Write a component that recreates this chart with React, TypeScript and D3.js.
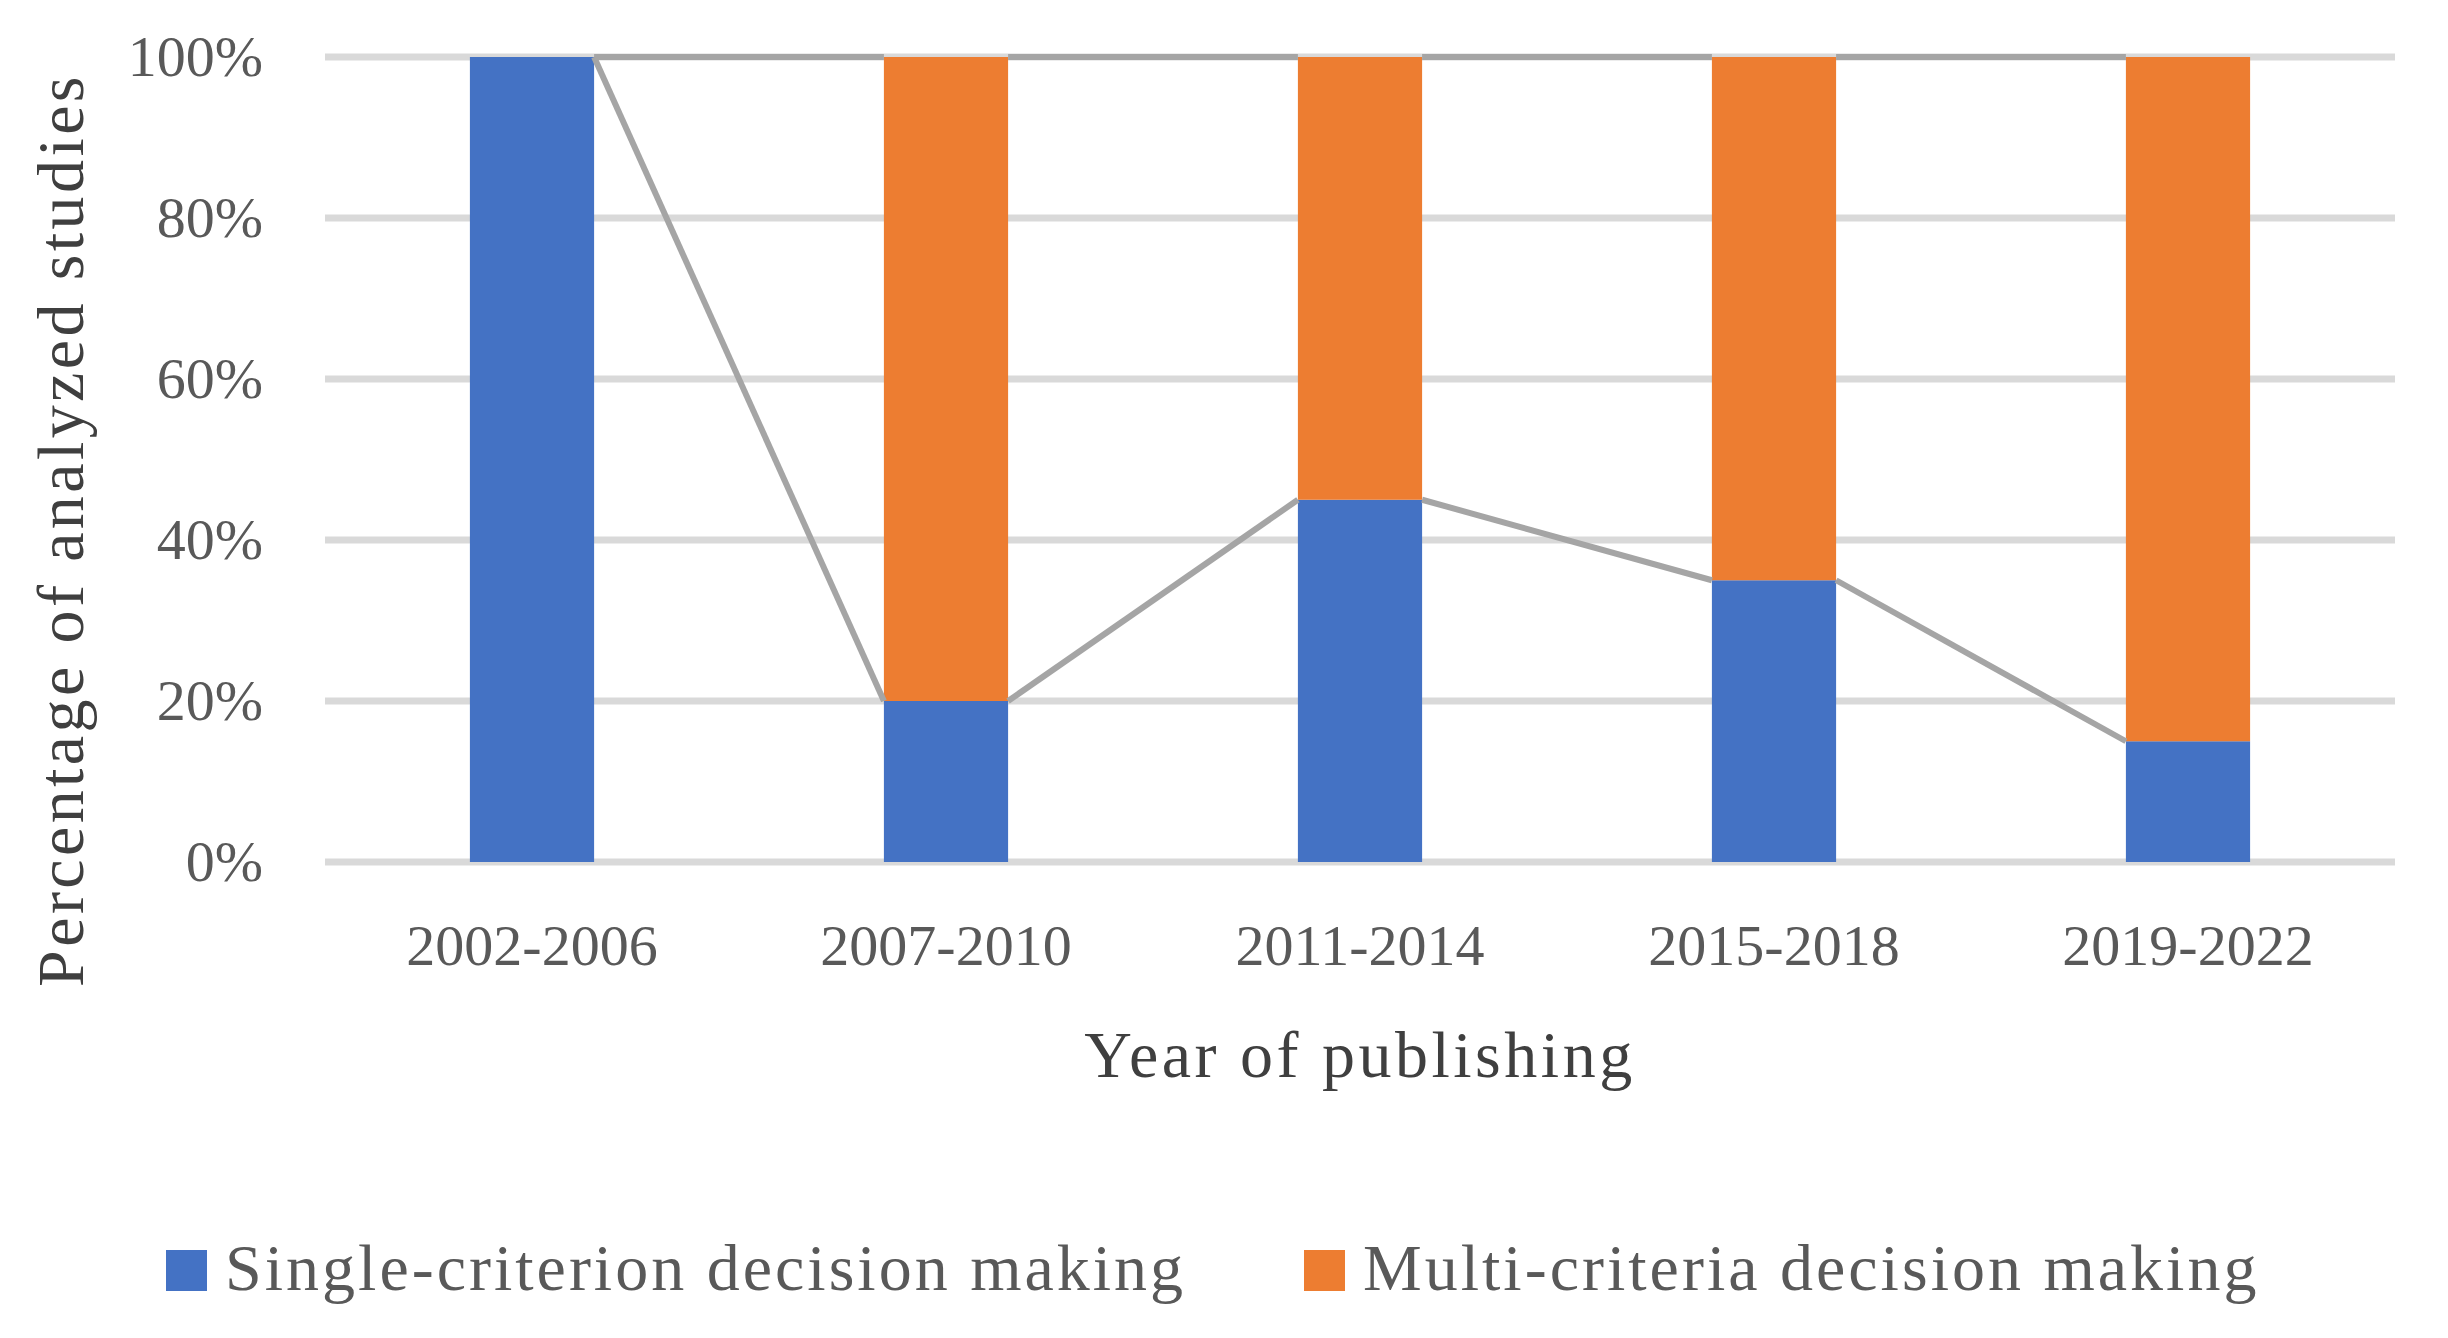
import * as d3 from "d3";

const periods = ["2002-2006", "2007-2010", "2011-2014", "2015-2018", "2019-2022"];
const singleCriterion = [100, 20, 45, 35, 15];
const multiCriteria = [0, 80, 55, 65, 85];
const seriesNames = ["Single-criterion decision making", "Multi-criteria decision making"];
const seriesColors = ["#4472C4", "#ED7D31"];
const yTicks = [0, 20, 40, 60, 80, 100];

const W = 2448;
const H = 1338;
const margin = { top: 57, right: 53, bottom: 476, left: 325 };
const FONT = "'Palatino Linotype', 'Book Antiqua', Palatino, 'Liberation Serif', serif";

const App = () => {
  const x = d3
    .scaleBand()
    .domain(periods)
    .range([margin.left, W - margin.right])
    .paddingInner(0.7)
    .paddingOuter(0.35);

  const y = d3
    .scaleLinear()
    .domain([0, 100])
    .range([H - margin.bottom, margin.top]);

  const rows = periods.map((p, i) => ({
    period: p,
    single: singleCriterion[i],
    multi: multiCriteria[i],
  }));
  const stacked = d3.stack<any>().keys(["single", "multi"])(rows);

  // series lines: right edge of one bar to left edge of next, per series top
  const seriesLines = stacked.map((s) =>
    s.slice(0, -1).map((d, i) => {
      const a = periods[i];
      const b = periods[i + 1];
      return {
        x1: (x(a) as number) + x.bandwidth(),
        y1: y(d[1]),
        x2: x(b) as number,
        y2: y(s[i + 1][1]),
      };
    })
  );

  const plotCenterX = (margin.left + W - margin.right) / 2;

  return (
    <svg
      width={W}
      height={H}
      style={{ position: "absolute", left: 0, top: 0, background: "#fff" }}
      fontFamily={FONT}
    >
      {/* gridlines */}
      {yTicks.map((t) => (
        <line
          key={t}
          x1={margin.left}
          x2={W - margin.right}
          y1={y(t)}
          y2={y(t)}
          stroke="#D9D9D9"
          strokeWidth={7}
        />
      ))}

      {/* y tick labels */}
      {yTicks.map((t) => (
        <text
          key={t}
          x={263}
          y={y(t) + 19}
          textAnchor="end"
          fontSize={58}
          fill="#595959"
        >
          {t}%
        </text>
      ))}

      {/* stacked bars */}
      {stacked.map((s, si) => (
        <g key={s.key} fill={seriesColors[si]}>
          {s.map((d, i) => (
            <rect
              key={i}
              x={x(periods[i])}
              y={y(d[1])}
              width={x.bandwidth()}
              height={Math.max(0, y(d[0]) - y(d[1]))}
            />
          ))}
        </g>
      ))}

      {/* series lines */}
      {seriesLines.map((segs, si) =>
        segs.map((l, i) => (
          <line
            key={`${si}-${i}`}
            x1={l.x1}
            y1={l.y1}
            x2={l.x2}
            y2={l.y2}
            stroke="#A5A5A5"
            strokeWidth={6}
          />
        ))
      )}

      {/* x tick labels */}
      {periods.map((p) => (
        <text
          key={p}
          x={(x(p) as number) + x.bandwidth() / 2}
          y={965}
          textAnchor="middle"
          fontSize={58}
          fill="#595959"
        >
          {p}
        </text>
      ))}

      {/* axis titles */}
      <text
        x={plotCenterX}
        y={1077}
        textAnchor="middle"
        fontSize={66}
        letterSpacing={3.5}
        fill="#3F3F3F"
      >
        Year of publishing
      </text>
      <text
        transform={`translate(83, 530) rotate(-90)`}
        textAnchor="middle"
        fontSize={66}
        letterSpacing={3.4}
        fill="#3F3F3F"
      >
        Percentage of analyzed studies
      </text>

      {/* legend */}
      {seriesNames.map((name, i) => {
        const lx = i === 0 ? 166 : 1304;
        return (
          <g key={name}>
            <rect x={lx} y={1250} width={41} height={41} fill={seriesColors[i]} />
            <text
              x={lx + 59}
              y={1290}
              fontSize={66}
              letterSpacing={3}
              fill="#595959"
            >
              {name}
            </text>
          </g>
        );
      })}
    </svg>
  );
};

export default App;
